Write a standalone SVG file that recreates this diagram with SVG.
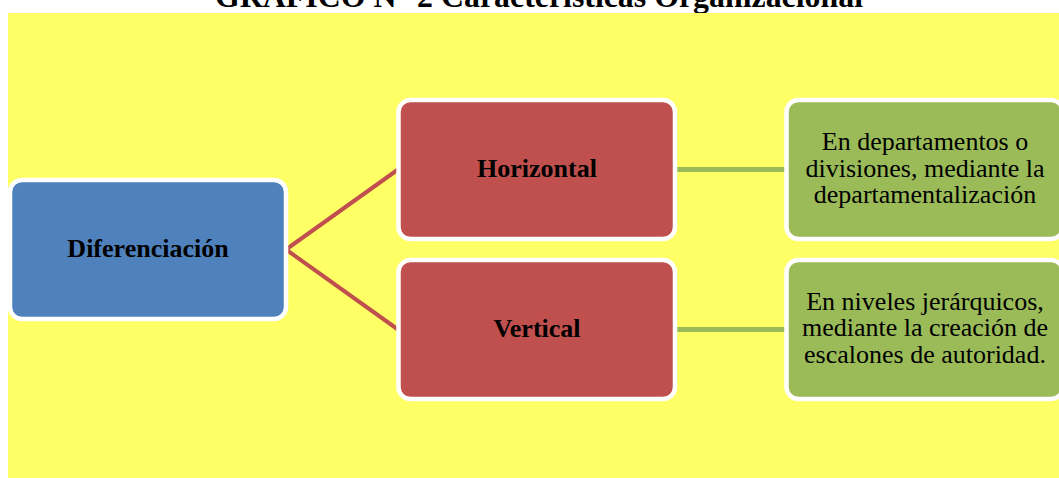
<svg xmlns="http://www.w3.org/2000/svg" width="1059" height="478" viewBox="0 0 1059 478">
<style>
.bg{fill:#FFFF66}
.box{stroke:#FFFFFF;stroke-width:4.5}
.blue{fill:#4F81BD}
.red{fill:#C0504D}
.green{fill:#9BBB59}
.lbl{font-family:"Liberation Serif","Times New Roman",serif;font-weight:bold;font-size:26px;fill:#000;text-anchor:middle}
.txt{font-family:"Liberation Serif","Times New Roman",serif;font-size:26px;fill:#000;text-anchor:middle}
.title{font-family:"Liberation Serif","Times New Roman",serif;font-weight:bold;font-size:31px;fill:#000}
.cr{stroke:#C0504D;stroke-width:4;fill:none}
.cg{stroke:#9BBB59;stroke-width:5;fill:none}
</style>
<rect width="1059" height="478" fill="#FFFFFF"/>
<text class="title" x="215" y="7" textLength="648" lengthAdjust="spacingAndGlyphs">GRÁFICO N° 2 Características Organizacional</text>
<rect class="bg" x="8" y="13" width="1051" height="465"/>
<g id="connectors">
<line class="cr" x1="286" y1="249.5" x2="398" y2="169.5"/>
<line class="cr" x1="286" y1="249.5" x2="398" y2="329.5"/>
<line class="cg" x1="675" y1="169.5" x2="786" y2="169.5"/>
<line class="cg" x1="675" y1="329.5" x2="786" y2="329.5"/>
</g>
<g id="diferenciacion">
<rect class="box blue" x="10" y="180" width="276" height="139" rx="12"/>
<text class="lbl" x="148" y="257">Diferenciación</text>
</g>
<g id="horizontal">
<rect class="box red" x="398.5" y="100" width="276.5" height="139" rx="12"/>
<text class="lbl" x="537" y="177">Horizontal</text>
</g>
<g id="vertical">
<rect class="box red" x="398.5" y="260" width="276.5" height="139" rx="12"/>
<text class="lbl" x="537" y="337">Vertical</text>
</g>
<g id="desc-horizontal">
<rect class="box green" x="786.5" y="100" width="276.5" height="139" rx="12"/>
<text class="txt" x="925" y="150">En departamentos o</text>
<text class="txt" x="925" y="176.5">divisiones, mediante la</text>
<text class="txt" x="925" y="202.7">departamentalización</text>
</g>
<g id="desc-vertical">
<rect class="box green" x="786.5" y="260" width="276.5" height="139" rx="12"/>
<text class="txt" x="925" y="310">En niveles jerárquicos,</text>
<text class="txt" x="925" y="336.3">mediante la creación de</text>
<text class="txt" x="925" y="362.7">escalones de autoridad.</text>
</g>
</svg>
